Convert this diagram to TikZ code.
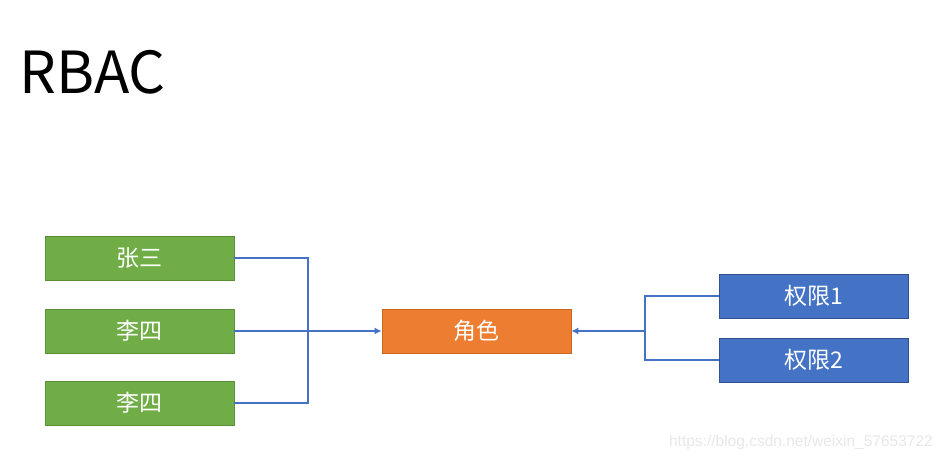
\documentclass[tikz,border=0pt]{standalone}
\usepackage{fontspec}
\setmainfont{Noto Sans CJK SC}
\newfontfamily\wmfont{Liberation Sans}
\usetikzlibrary{arrows.meta}
\definecolor{gfill}{HTML}{70AD47}
\definecolor{gdraw}{HTML}{5A8F37}
\definecolor{ofill}{HTML}{ED7D31}
\definecolor{odraw}{HTML}{C8661F}
\definecolor{bfill}{HTML}{4472C4}
\definecolor{bdraw}{HTML}{2F528F}
\definecolor{lineblue}{HTML}{4472C4}
\tikzset{
  box/.style={minimum width=189pt, minimum height=44pt, inner sep=0pt, text=white, font=\fontsize{23pt}{26pt}\selectfont, line width=0.8pt},
  userbox/.style={box, fill=gfill, draw=gdraw},
  rolebox/.style={box, fill=ofill, draw=odraw},
  permbox/.style={box, fill=bfill, draw=bdraw},
  link/.style={draw=lineblue, line width=2pt},
  arr/.style={link, -{Latex[length=7pt,width=7pt]}}
}
\begin{document}
\begin{tikzpicture}[x=1pt,y=-1pt]
\useasboundingbox (0,0) rectangle (943,460);
\fill[white] (0,0) rectangle (943,460);
\node[anchor=base west, inner sep=0pt, font=\fontsize{58pt}{64pt}\selectfont] (title) at (19,93) {RBAC};
\node[userbox] (u1) at (139.5,258) {张三};
\node[userbox] (u2) at (139.5,331) {李四};
\node[userbox] (u3) at (139.5,403) {李四};
\node[rolebox] (role) at (476.5,331) {角色};
\node[permbox] (p1) at (814,296) {权限1};
\node[permbox] (p2) at (814,360) {权限2};
\coordinate (jl) at (308,331);
\coordinate (jr) at (645,331);
\draw[link] (u1.east) -| (jl);
\draw[link] (u3.east) -| (jl);
\draw[arr] (u2.east) -- (role.west);
\draw[link] (p1.west) -| (jr);
\draw[link] (p2.west) -| (jr);
\draw[arr] (jr) -- (role.east);
\node[anchor=base east, inner sep=0pt, text=black!9, font=\wmfont\fontsize{15.5pt}{18pt}\selectfont] (wm) at (933,446) {https://blog.csdn.net/weixin\_57653722};
\end{tikzpicture}
\end{document}
